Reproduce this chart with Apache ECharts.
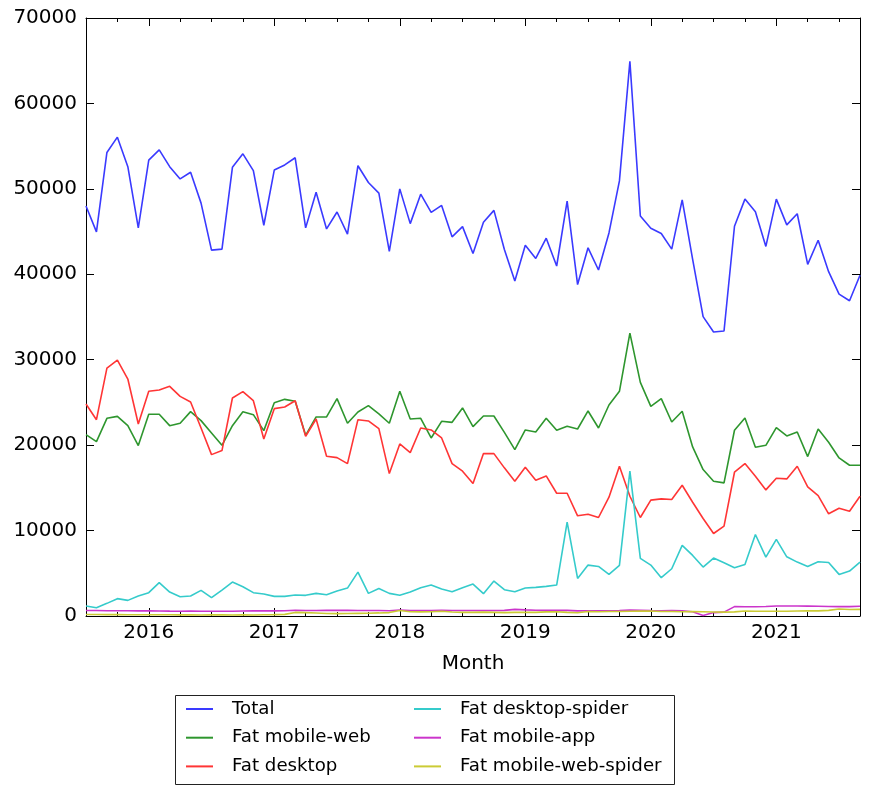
<!DOCTYPE html>
<html><head><meta charset="utf-8">
<script src="https://cdn.jsdelivr.net/npm/echarts@6/dist/echarts.min.js"></script>
<style>html,body{margin:0;padding:0;background:#fff}#c{width:884px;height:787px}</style>
</head><body><div id="c"></div>
<script>
// Monthly categories Jul 2015 .. Sep 2021
const months = [];
for (let y = 2015, m = 7; y < 2021 || (y === 2021 && m <= 9); ) {
  months.push(y + '-' + String(m).padStart(2, '0'));
  m++; if (m > 12) { m = 1; y++; }
}
const yTicks = [0, 10000, 20000, 30000, 40000, 50000, 60000, 70000];

const total = [48000, 44960, 54260, 56050, 52600, 45430, 53370, 54570, 52600, 51160, 51940, 48330,
  42830, 42950, 52520, 54100, 52130, 45740, 52200, 52800, 53640, 45430, 49610, 45310,
  47290, 44700, 52710, 50740, 49500, 42670, 50000, 45930, 49380, 47250, 48060, 44380,
  45580, 42440, 46090, 47480, 42900, 39220, 43410, 41860, 44220, 40970, 48570, 38800,
  43100, 40500, 44840, 50930, 64920, 46820, 45390, 44770, 42950, 48720, 41740, 35040,
  33240, 33360, 45620, 48800, 47330, 43260, 48800, 45780, 47090, 41160, 43990, 40310, 37670, 36900, 39880];
const mobileWeb = [21230, 20410, 23140, 23370, 22280, 19950, 23610, 23610, 22280, 22560, 23920, 22870,
  21430, 19980, 22280, 23920, 23570, 21700, 24970, 25360, 25130, 21150, 23300, 23300,
  25440, 22560, 23880, 24620, 23650, 22560, 26300, 23060, 23140, 20840, 22790, 22670,
  24350, 22170, 23410, 23410, 21500, 19480, 21780, 21540, 23140, 21740, 22200, 21890,
  24000, 22010, 24700, 26300, 33110, 27350, 24540, 25440, 22710, 23960, 19790, 17140,
  15780, 15580, 21740, 23180, 19750, 19980, 22050, 21080, 21540, 18660, 21890, 20340, 18500, 17650, 17650];
const desktop = [24810, 22980, 29020, 29960, 27740, 22480, 26300, 26450, 26880, 25710, 25050, 22010,
  18890, 19360, 25520, 26260, 25200, 20720, 24270, 24460, 25200, 21040, 23060, 18700,
  18540, 17840, 22980, 22830, 21930, 16670, 20140, 19130, 22010, 21780, 20840, 17840,
  16950, 15500, 19010, 19010, 17340, 15780, 17410, 15890, 16400, 14370, 14370, 11730,
  11920, 11530, 13910, 17530, 14020, 11530, 13560, 13710, 13630, 15310, 13320, 11410,
  9660, 10520, 16830, 17840, 16360, 14760, 16130, 16050, 17530, 15110, 14100, 11960, 12620, 12270, 14020];
const desktopSpider = [1170, 970, 1480, 2030, 1830, 2340, 2730, 3900, 2800, 2260, 2340, 3000,
  2140, 3040, 3970, 3430, 2730, 2570, 2300, 2300, 2450, 2420, 2650, 2490,
  2920, 3270, 5140, 2650, 3230, 2650, 2420, 2800, 3310, 3640, 3150, 2840,
  3310, 3740, 2610, 4090, 3080, 2840, 3270, 3350, 3470, 3620, 10990, 4400,
  5960, 5800, 4870, 5920, 16950, 6740, 5960, 4480, 5530, 8260, 7090, 5730,
  6780, 6230, 5650, 6040, 9540, 6900, 8960, 6930, 6310, 5800, 6350, 6270, 4870, 5260, 6310];
const mobileApp = [650, 640, 620, 620, 610, 600, 610, 590, 570, 560, 570, 550,
  560, 560, 560, 580, 600, 620, 600, 610, 680, 650, 650, 660,
  670, 660, 650, 640, 640, 620, 700, 650, 640, 640, 660, 640,
  650, 640, 640, 640, 660, 780, 720, 680, 660, 680, 660, 600,
  620, 620, 620, 640, 700, 680, 640, 620, 640, 600, 500, 60,
  400, 450, 1100, 1080, 1080, 1120, 1170, 1170, 1170, 1160, 1140, 1120, 1100, 1100, 1150];
const mobileWebSpider = [180, 170, 160, 160, 150, 150, 140, 150, 150, 130, 130, 120,
  140, 130, 120, 140, 120, 150, 160, 190, 420, 400, 350, 300,
  280, 290, 310, 330, 360, 400, 650, 500, 480, 500, 560, 460,
  420, 430, 450, 430, 400, 430, 420, 420, 480, 500, 420, 380,
  520, 500, 520, 520, 560, 570, 580, 520, 520, 500, 520, 500,
  470, 450, 480, 580, 560, 550, 560, 560, 580, 600, 600, 660, 820, 760, 780];

const names = ['Total', 'Fat mobile-web', 'Fat desktop', 'Fat desktop-spider', 'Fat mobile-app', 'Fat mobile-web-spider'];
const colors = ['#3a3aff', '#2e962e', '#ff3535', '#35cbcb', '#cb35cb', '#cbcb35'];
const seriesData = [total, mobileWeb, desktop, desktopSpider, mobileApp, mobileWebSpider];

const FONT = 'DejaVu Sans';
const isQuarter = (i) => i % 3 === 0;
const isYear = (i, v) => String(v).endsWith('-01');

function xAx(pos, yearTicks, labels) {
  return {
    type: 'category', data: months, boundaryGap: false, position: pos,
    axisLine: { show: !yearTicks, lineStyle: { color: '#000', width: 1 } },
    axisTick: { show: true, inside: true, length: yearTicks ? 8 : 4,
      interval: yearTicks ? isYear : isQuarter, lineStyle: { color: '#000' } },
    axisLabel: { show: labels, interval: isYear, formatter: (v) => v.slice(0, 4),
      color: '#000', fontFamily: FONT, fontSize: 20, margin: 7 },
    splitLine: { show: false },
    name: labels ? 'Month' : '', nameLocation: 'middle', nameGap: 38,
    nameTextStyle: { color: '#000', fontFamily: FONT, fontSize: 20 }
  };
}
function yAx(pos, labels) {
  return {
    type: 'value', min: yTicks[0], max: yTicks[yTicks.length - 1], interval: yTicks[1] - yTicks[0], position: pos,
    axisLine: { show: true, lineStyle: { color: '#000', width: 1 } },
    axisTick: { show: true, inside: true, length: 8, lineStyle: { color: '#000' } },
    axisLabel: { show: labels, color: '#000', fontFamily: FONT, fontSize: 20, margin: 9,
      formatter: (v) => String(v) },
    splitLine: { show: false }
  };
}

const chart = echarts.init(document.getElementById('c'), null, { renderer: 'canvas' });
const legendCommon = {
  orient: 'vertical', padding: 0, itemGap: 8.7, itemWidth: 27, itemHeight: 2, icon: 'rect',
  textStyle: { fontFamily: FONT, fontSize: 18.2, lineHeight: 20, color: '#000', padding: [0, 0, 0, 14] }
};
chart.setOption({
  animation: false,
  backgroundColor: '#fff',
  color: colors,
  grid: { left: 86, right: 24, top: 18, bottom: 171 },
  xAxis: [xAx('bottom', false, true), xAx('bottom', true, false), xAx('top', false, false), xAx('top', true, false)],
  yAxis: [yAx('left', true), yAx('right', false)],
  legend: [
    Object.assign({ left: 186, top: 699, data: names.slice(0, 3) }, legendCommon),
    Object.assign({ left: 414, top: 699, data: names.slice(3) }, legendCommon)
  ],
  graphic: [{ type: 'rect', left: 173, top: 693, shape: { width: 499, height: 89 },
    style: { fill: 'none', stroke: '#222', lineWidth: 1 }, silent: true }],
  series: names.map((n, k) => ({
    name: n, type: 'line', data: seriesData[k], symbol: 'none', showSymbol: false,
    xAxisIndex: 0, yAxisIndex: 0,
    lineStyle: { width: 1.6, color: colors[k] }, itemStyle: { color: colors[k] }
  }))
});
</script></body></html>
